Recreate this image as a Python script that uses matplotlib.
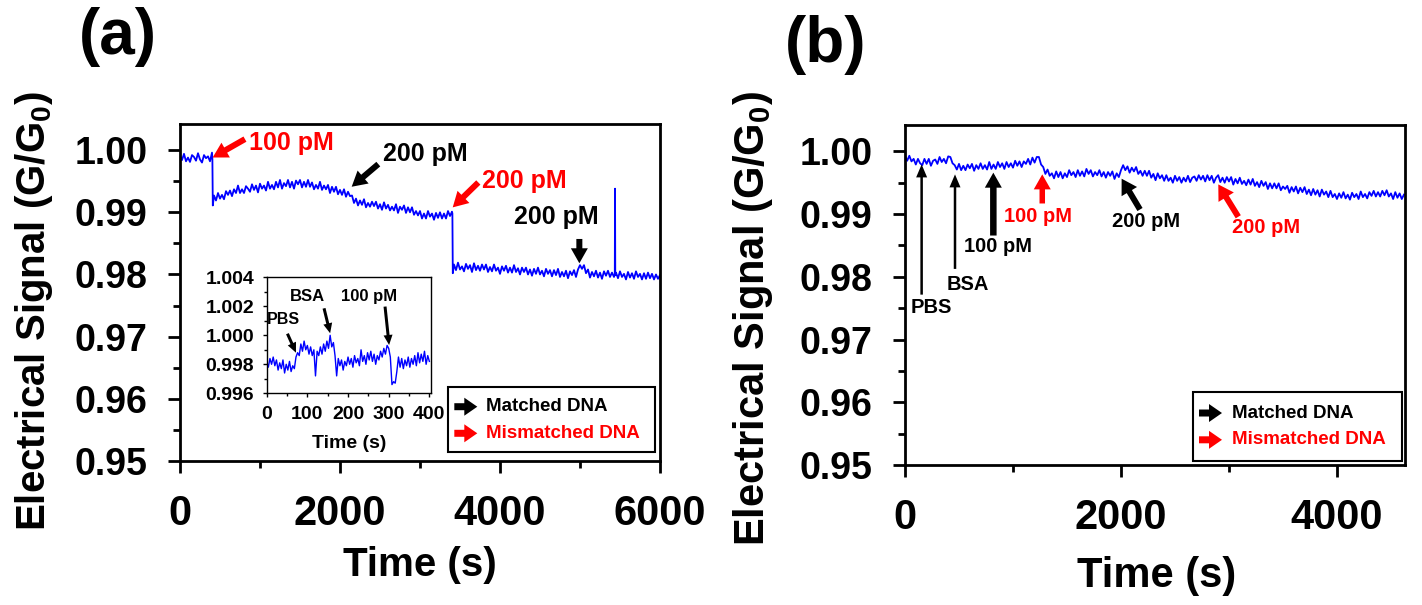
import numpy as np
import matplotlib
matplotlib.use('Agg')
import matplotlib.pyplot as plt
from matplotlib.ticker import MultipleLocator, FormatStrFormatter
from matplotlib.patches import Rectangle

plt.rcParams['font.family'] = ['Liberation Sans', 'DejaVu Sans']
plt.rcParams['font.weight'] = 'bold'
plt.rcParams['axes.labelweight'] = 'bold'
plt.rcParams['mathtext.fontset'] = 'custom'
plt.rcParams['mathtext.rm'] = 'Liberation Sans:bold'
plt.rcParams['mathtext.it'] = 'Liberation Sans:bold'
plt.rcParams['mathtext.bf'] = 'Liberation Sans:bold'

# ---- panel (a): full run (s, G/G0)
# sampling times: regular 25 s steps plus the injection jumps and the spike
a_time = np.concatenate([np.arange(0, 401, 25), [405, 410],
                         np.arange(425, 3401, 25), [3405, 3410],
                         np.arange(3425, 5426, 25), [5435, 5438, 5441],
                         np.arange(5450, 6001, 25)])
a_signal = [
    # 0 - 410 s
    0.9991, 0.9984, 0.9994, 0.9982, 0.9988, 0.9981, 0.9992, 0.9989, 0.9983, 0.9995,
    0.9985, 0.9980, 0.9992, 0.9987, 0.9990, 0.9982, 0.9996, 0.9985, 0.9911,
    # 425 - 3410 s
    0.9927, 0.9919, 0.9931, 0.9922, 0.9928, 0.9921, 0.9934, 0.9928, 0.9935, 0.9926,
    0.9937, 0.9931, 0.9943, 0.9931, 0.9937, 0.9931, 0.9942, 0.9938, 0.9933, 0.9945,
    0.9936, 0.9943, 0.9932, 0.9946, 0.9938, 0.9943, 0.9935, 0.9949, 0.9938, 0.9944,
    0.9937, 0.9949, 0.9940, 0.9952, 0.9938, 0.9947, 0.9942, 0.9952, 0.9940, 0.9949,
    0.9938, 0.9951, 0.9945, 0.9952, 0.9940, 0.9949, 0.9941, 0.9952, 0.9941, 0.9948,
    0.9937, 0.9944, 0.9938, 0.9949, 0.9936, 0.9943, 0.9937, 0.9944, 0.9931, 0.9941,
    0.9933, 0.9941, 0.9929, 0.9936, 0.9928, 0.9937, 0.9925, 0.9933, 0.9926, 0.9927,
    0.9915, 0.9922, 0.9911, 0.9919, 0.9912, 0.9921, 0.9908, 0.9915, 0.9909, 0.9917,
    0.9910, 0.9917, 0.9906, 0.9913, 0.9904, 0.9916, 0.9906, 0.9912, 0.9903, 0.9909,
    0.9903, 0.9913, 0.9899, 0.9909, 0.9904, 0.9911, 0.9899, 0.9908, 0.9900, 0.9908,
    0.9896, 0.9902, 0.9895, 0.9902, 0.9890, 0.9898, 0.9890, 0.9902, 0.9893, 0.9898,
    0.9888, 0.9899, 0.9891, 0.9900, 0.9890, 0.9898, 0.9890, 0.9902, 0.9894, 0.9901,
    0.9898, 0.9802,
    # 3425 - 5441 s
    0.9816, 0.9807, 0.9819, 0.9808, 0.9813, 0.9805, 0.9817, 0.9809, 0.9815, 0.9804,
    0.9818, 0.9807, 0.9814, 0.9806, 0.9816, 0.9808, 0.9816, 0.9804, 0.9812, 0.9805,
    0.9816, 0.9806, 0.9811, 0.9801, 0.9813, 0.9806, 0.9814, 0.9803, 0.9811, 0.9803,
    0.9815, 0.9804, 0.9810, 0.9800, 0.9811, 0.9804, 0.9811, 0.9800, 0.9808, 0.9798,
    0.9809, 0.9801, 0.9811, 0.9800, 0.9806, 0.9797, 0.9809, 0.9801, 0.9807, 0.9797,
    0.9807, 0.9799, 0.9809, 0.9796, 0.9804, 0.9797, 0.9806, 0.9794, 0.9805, 0.9799,
    0.9807, 0.9796, 0.9808, 0.9815, 0.9809, 0.9815, 0.9802, 0.9808, 0.9795, 0.9804,
    0.9797, 0.9806, 0.9795, 0.9803, 0.9793, 0.9805, 0.9798, 0.9806, 0.9796, 0.9803,
    0.9796, 0.9800, 0.9938, 0.9799,
    # 5450 - 6000 s
    0.9803, 0.9794, 0.9805, 0.9796, 0.9801, 0.9792, 0.9804, 0.9795, 0.9802, 0.9793,
    0.9805, 0.9796, 0.9801, 0.9792, 0.9802, 0.9793, 0.9803, 0.9794, 0.9801, 0.9792,
    0.9800, 0.9793, 0.9799]

# ---- inset of (a): first 400 s, 4 s steps
inset_time = np.arange(0, 401, 4)
inset_signal = [0.9982, 0.9978, 0.9984, 0.9980, 0.9985, 0.9979, 0.9983, 0.9976, 0.9981, 0.9977,
                0.9983, 0.9974, 0.9980, 0.9976, 0.9982, 0.9975, 0.9979, 0.9977, 0.9985, 0.9988,
                0.9986, 0.9994, 0.9989, 0.9996, 0.9990, 0.9993, 0.9987, 0.9992, 0.9986, 0.9990,
                0.9972, 0.9989, 0.9986, 0.9992, 0.9987, 0.9994, 0.9989, 0.9996, 0.9991, 1.0000,
                0.9992, 0.9995, 0.9986, 0.9972, 0.9984, 0.9979, 0.9983, 0.9976, 0.9982, 0.9979,
                0.9985, 0.9980, 0.9984, 0.9978, 0.9986, 0.9981, 0.9984, 0.9979, 0.9990, 0.9982,
                0.9986, 0.9980, 0.9988, 0.9983, 0.9989, 0.9982, 0.9987, 0.9980, 0.9986, 0.9983,
                0.9989, 0.9985, 0.9991, 0.9987, 0.9993, 0.9991, 0.9985, 0.9966, 0.9968, 0.9967,
                0.9975, 0.9985, 0.9978, 0.9984, 0.9977, 0.9983, 0.9979, 0.9985, 0.9978, 0.9984,
                0.9980, 0.9986, 0.9979, 0.9988, 0.9981, 0.9987, 0.9982, 0.9989, 0.9980, 0.9986,
                0.9982]

# ---- panel (b): 20 s steps
b_signal = [
    0.9993, 0.9985, 0.9993, 0.9984, 0.9988, 0.9979, 0.9988, 0.9981, 0.9978, 0.9988,
    0.9980, 0.9988, 0.9977, 0.9985, 0.9987, 0.9980, 0.9991, 0.9983, 0.9988, 0.9981,
    0.9992, 0.9991, 0.9981, 0.9978, 0.9971, 0.9980, 0.9970, 0.9977, 0.9970, 0.9979,
    0.9973, 0.9980, 0.9969, 0.9978, 0.9972, 0.9981, 0.9972, 0.9978, 0.9971, 0.9983,
    0.9972, 0.9979, 0.9972, 0.9983, 0.9975, 0.9981, 0.9972, 0.9983, 0.9975, 0.9981,
    0.9974, 0.9985, 0.9977, 0.9984, 0.9975, 0.9984, 0.9980, 0.9988, 0.9979, 0.9990,
    0.9982, 0.9991, 0.9991, 0.9979, 0.9975, 0.9964, 0.9971, 0.9961, 0.9965, 0.9957,
    0.9968, 0.9959, 0.9967, 0.9957, 0.9965, 0.9959, 0.9970, 0.9962, 0.9967, 0.9959,
    0.9970, 0.9961, 0.9968, 0.9960, 0.9972, 0.9964, 0.9970, 0.9960, 0.9967, 0.9962,
    0.9970, 0.9960, 0.9967, 0.9958, 0.9967, 0.9961, 0.9968, 0.9956, 0.9965, 0.9959,
    0.9970, 0.9978, 0.9970, 0.9976, 0.9966, 0.9974, 0.9968, 0.9975, 0.9964, 0.9969,
    0.9961, 0.9969, 0.9961, 0.9969, 0.9958, 0.9964, 0.9954, 0.9965, 0.9957, 0.9962,
    0.9953, 0.9962, 0.9953, 0.9958, 0.9950, 0.9961, 0.9953, 0.9959, 0.9950, 0.9958,
    0.9952, 0.9961, 0.9951, 0.9958, 0.9960, 0.9953, 0.9962, 0.9955, 0.9961, 0.9952,
    0.9962, 0.9954, 0.9961, 0.9950, 0.9958, 0.9962, 0.9951, 0.9958, 0.9950, 0.9959,
    0.9952, 0.9959, 0.9947, 0.9956, 0.9949, 0.9958, 0.9948, 0.9953, 0.9946, 0.9955,
    0.9947, 0.9956, 0.9945, 0.9951, 0.9943, 0.9953, 0.9945, 0.9951, 0.9940, 0.9949,
    0.9941, 0.9949, 0.9941, 0.9949, 0.9938, 0.9944, 0.9940, 0.9945, 0.9934, 0.9943,
    0.9936, 0.9944, 0.9933, 0.9942, 0.9935, 0.9943, 0.9932, 0.9939, 0.9930, 0.9940,
    0.9931, 0.9938, 0.9928, 0.9939, 0.9931, 0.9936, 0.9927, 0.9937, 0.9927, 0.9932,
    0.9924, 0.9933, 0.9926, 0.9935, 0.9925, 0.9931, 0.9923, 0.9934, 0.9927, 0.9932,
    0.9924, 0.9936, 0.9927, 0.9932, 0.9925, 0.9935, 0.9929, 0.9937, 0.9928, 0.9935,
    0.9928, 0.9937, 0.9930, 0.9938, 0.9928, 0.9933, 0.9924, 0.9935, 0.9926, 0.9933,
    0.9924, 0.9931]
b_time = np.arange(len(b_signal)) * 20

legend_labels = ['Matched DNA', 'Mismatched DNA']
BLUE = '#0000FF'
RED = '#FF0000'
PX = 0.72  # points per pixel at dpi 100


def block_arrow(ax, tail, tip, color, shaft, head_w, head_l, coords='data', z=4):
    style = 'simple,head_length=%.2f,head_width=%.2f,tail_width=%.2f' % (
        head_l * PX, head_w * PX, shaft * PX)
    ax.annotate('', xy=tip, xytext=tail, xycoords=coords, textcoords=coords, zorder=z,
                arrowprops=dict(arrowstyle=style, fc=color, ec=color, lw=0,
                                shrinkA=0, shrinkB=0, mutation_scale=1))


def style_main(ax, xlim, xtick_fs, ytick_fs):
    ax.set_xlim(*xlim)
    ax.set_ylim(0.95, 1.0042)
    ax.xaxis.set_major_locator(MultipleLocator(2000))
    ax.xaxis.set_minor_locator(MultipleLocator(1000))
    ax.yaxis.set_major_locator(MultipleLocator(0.01))
    ax.yaxis.set_minor_locator(MultipleLocator(0.005))
    ax.yaxis.set_major_formatter(FormatStrFormatter('%.2f'))
    for s in ax.spines.values():
        s.set_linewidth(2)
    ax.tick_params(which='major', direction='out', length=8.5, width=2)
    ax.tick_params(which='minor', direction='out', length=5, width=2)
    ax.tick_params(axis='x', which='major', labelsize=xtick_fs, pad=15)
    ax.tick_params(axis='y', which='major', labelsize=ytick_fs, pad=15)


def legend_box(ax, box, arrow_x, rows_y, text_x):
    ax.add_patch(Rectangle((box[0], box[1]), box[2] - box[0], box[3] - box[1],
                           transform=ax.transAxes, fc='white', ec='black', lw=1.5, zorder=5))
    for label, color, y in zip(legend_labels, ['black', RED], rows_y):
        block_arrow(ax, (arrow_x[0], y), (arrow_x[1], y), color, 7, 18, 13,
                    coords='axes fraction', z=7)
        ax.text(text_x, y, label, transform=ax.transAxes, color=color, fontsize=13.5,
                ha='left', va='center', zorder=7)


fig = plt.figure(figsize=(14.22, 6.05), dpi=100)

# ================= (a) =================
ax1 = fig.add_axes([0.12658, 0.23802, 0.33755, 0.55702])
ax1.plot(a_time, a_signal, color=BLUE, lw=1.3)
style_main(ax1, (0, 6000), 30, 27)
ax1.set_xlabel('Time (s)', fontsize=29)
ax1.set_ylabel('Electrical Signal (G/G$_0$)', fontsize=29)
ax1.xaxis.set_label_coords(0.5, -0.31)
ax1.yaxis.set_label_coords(-0.305, 0.445)
ax1.yaxis.label.set_va('center')
ax1.xaxis.label.set_va('center')

block_arrow(ax1, (812, 1.00177), (408, 0.99881), RED, 6, 17, 15)
ax1.text(862, 1.00122, '100 pM', color=RED, fontsize=18, ha='left', va='center')
block_arrow(ax1, (2479, 0.99775), (2146, 0.99411), 'black', 6, 17, 15)
ax1.text(2541, 0.99936, '200 pM', color='black', fontsize=18, ha='left', va='center')
block_arrow(ax1, (3729, 0.9948), (3409, 0.99079), RED, 6, 17, 15)
ax1.text(3771, 0.99507, '200 pM', color=RED, fontsize=18, ha='left', va='center')
block_arrow(ax1, (4992, 0.98571), (4992, 0.9818), 'black', 6, 17, 15)
ax1.text(4698, 0.98929, '200 pM', color='black', fontsize=18, ha='center', va='center')

legend_box(ax1, (0.5577, 0.0258, 0.9896, 0.2187), (0.5715, 0.6194), (0.1611, 0.0822), 0.6375)

fig.text(118 / 1422, 1 - 37 / 605, '(a)', fontsize=46, ha='center', va='center')

# inset
axi = fig.add_axes([0.18755, 0.34992, 0.11554, 0.19174])
axi.plot(inset_time, inset_signal, color=BLUE, lw=1)
axi.set_xlim(0, 404)
axi.set_ylim(0.996, 1.004)
axi.xaxis.set_major_locator(MultipleLocator(100))
axi.xaxis.set_minor_locator(MultipleLocator(50))
axi.yaxis.set_major_locator(MultipleLocator(0.002))
axi.yaxis.set_minor_locator(MultipleLocator(0.001))
axi.yaxis.set_major_formatter(FormatStrFormatter('%.3f'))
for s in axi.spines.values():
    s.set_linewidth(1)
axi.tick_params(which='major', direction='out', length=3, width=1, labelsize=14, pad=6)
axi.tick_params(which='minor', direction='out', length=2, width=1)
axi.set_xlabel('Time (s)', fontsize=14)
axi.xaxis.set_label_coords(0.5, -0.43)
axi.xaxis.label.set_va('center')

block_arrow(axi, (51, 1.00011), (72, 0.9988), 'black', 3, 9, 10)
axi.text(42, 1.00106, 'PBS', fontsize=11.5, ha='center', va='center')
block_arrow(axi, (141, 1.00186), (156, 1.00014), 'black', 3, 9, 10)
axi.text(100, 1.00267, 'BSA', fontsize=12, ha='center', va='center')
block_arrow(axi, (291, 1.00198), (301, 0.99933), 'black', 3, 9, 10)
axi.text(251, 1.00267, '100 pM', fontsize=12, ha='center', va='center')

# ================= (b) =================
ax2 = fig.add_axes([0.63643, 0.23140, 0.35162, 0.56198])
ax2.plot(b_time, b_signal, color=BLUE, lw=1.3)
style_main(ax2, (0, 4630), 30, 27)
ax2.set_xlabel('Time (s)', fontsize=30)
ax2.set_ylabel('Electrical Signal (G/G$_0$)', fontsize=30)
ax2.xaxis.set_label_coords(0.503, -0.325)
ax2.yaxis.set_label_coords(-0.304, 0.43)
ax2.yaxis.label.set_va('center')
ax2.xaxis.label.set_va('center')

block_arrow(ax2, (154, 0.97716), (154, 0.99792), 'black', 2.5, 11, 13)
ax2.text(243, 0.97503, 'PBS', fontsize=14.5, ha='center', va='center')
block_arrow(ax2, (463, 0.98126), (463, 0.99633), 'black', 2.5, 11, 13)
ax2.text(582, 0.97875, 'BSA', fontsize=14.5, ha='center', va='center')
block_arrow(ax2, (818, 0.98658), (818, 0.9966), 'black', 6.5, 17, 15)
ax2.text(864, 0.98487, '100 pM', fontsize=14.5, ha='center', va='center')
block_arrow(ax2, (1271, 0.99169), (1271, 0.99633), RED, 5.5, 17, 15)
ax2.text(1236, 0.98957, '100 pM', color=RED, fontsize=14.5, ha='center', va='center')
block_arrow(ax2, (2176, 0.99073), (2006, 0.99564), 'black', 6, 18, 15)
ax2.text(2232, 0.98887, '200 pM', fontsize=14.5, ha='center', va='center')
block_arrow(ax2, (3086, 0.98957), (2901, 0.99473), RED, 6, 18, 15)
ax2.text(3340, 0.98781, '200 pM', color=RED, fontsize=14.5, ha='center', va='center')

legend_box(ax2, (0.5754, 0.0129, 0.9938, 0.2141), (0.588, 0.634), (0.1529, 0.0741), 0.6532)

fig.text(826 / 1422, 1 - 45 / 605, '(b)', fontsize=46, ha='center', va='center')

fig.savefig('out.png', dpi=100)
